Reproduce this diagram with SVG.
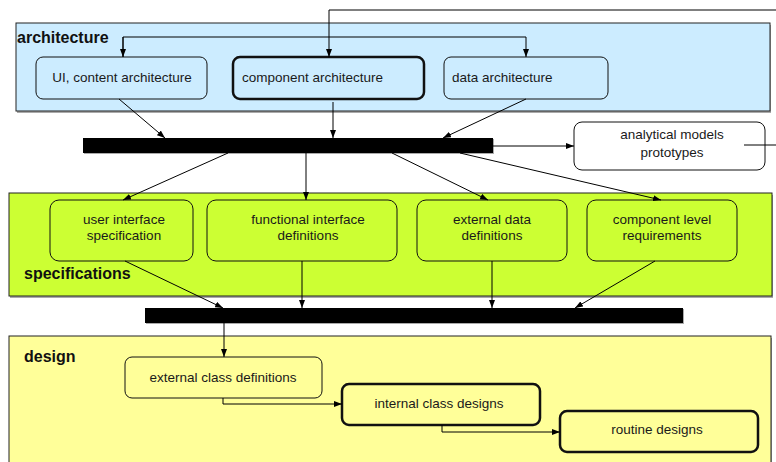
<svg xmlns="http://www.w3.org/2000/svg" width="776" height="462" viewBox="0 0 776 462">
<style>
.panel{stroke:#222;stroke-width:1}
.shadow{fill:#aaa}
.box{stroke:#111;stroke-width:1}
.thick{stroke:#111;stroke-width:2.5}
.t{font-family:"Liberation Sans",Arial,sans-serif;font-size:13.5px;fill:#1a1a1a}
.c{text-anchor:middle}
.h{font-family:"Liberation Sans",Arial,sans-serif;font-size:16px;font-weight:bold;fill:#111}
.ln{fill:none;stroke:#000;stroke-width:1}
.bar{fill:#000}
</style>
<defs>
<marker id="ah" viewBox="0 0 8 6" refX="8" refY="3" markerWidth="8" markerHeight="6" markerUnits="userSpaceOnUse" orient="auto">
<path d="M0,0 L8,3 L0,6 z" fill="#000"/>
</marker>
</defs>
<rect width="776" height="462" fill="#fff"/>

<g id="panel-architecture">
<rect class="shadow" x="17" y="25" width="754" height="88"/>
<rect class="panel" x="16" y="23" width="754" height="88" fill="#CCECFF"/>
<text class="h" x="17" y="43">architecture</text>
</g>
<g id="panel-specifications">
<rect class="shadow" x="10" y="195" width="763" height="103"/>
<rect class="panel" x="9" y="193" width="763" height="103" fill="#CCFF33"/>
<text class="h" x="24" y="279">specifications</text>
</g>
<g id="panel-design">
<rect class="shadow" x="10" y="338" width="762" height="130"/>
<rect class="panel" x="9" y="336" width="762" height="130" fill="#FFFF99"/>
<text class="h" x="24" y="362">design</text>
</g>

<g id="bar1"><rect class="shadow" x="84" y="139" width="410" height="15"/><rect class="bar" x="83" y="138" width="410" height="15"/></g>
<g id="bar2"><rect class="shadow" x="146" y="309" width="538" height="15"/><rect class="bar" x="145" y="308" width="538" height="15"/></g>

<g id="ui-content-architecture">
<rect class="box" x="36" y="57" width="171" height="42" rx="7" fill="#CCECFF"/>
<text class="t c" x="122" y="82">UI, content architecture</text>
</g>
<g id="component-architecture">
<rect class="thick" x="233" y="57" width="191" height="42" rx="7" fill="#CCECFF"/>
<text class="t" x="242" y="82">component architecture</text>
</g>
<g id="data-architecture">
<rect class="box" x="444" y="57" width="164" height="42" rx="7" fill="#CCECFF"/>
<text class="t" x="452" y="82">data architecture</text>
</g>
<g id="analytical-models">
<rect class="box" x="574" y="122" width="191" height="48" rx="8" fill="#fff"/>
<text class="t c" x="672" y="139">analytical models</text>
<text class="t c" x="672" y="157">prototypes</text>
</g>

<g id="user-interface-specification">
<rect class="box" x="50" y="200" width="143" height="61" rx="9" fill="#CCFF33"/>
<text class="t c" x="124" y="224">user interface</text>
<text class="t c" x="124" y="240">specification</text>
</g>
<g id="functional-interface-definitions">
<rect class="box" x="207" y="200" width="190" height="61" rx="9" fill="#CCFF33"/>
<text class="t c" x="308" y="224">functional interface</text>
<text class="t c" x="308" y="240">definitions</text>
</g>
<g id="external-data-definitions">
<rect class="box" x="417" y="200" width="150" height="61" rx="9" fill="#CCFF33"/>
<text class="t c" x="492" y="224">external data</text>
<text class="t c" x="492" y="240">definitions</text>
</g>
<g id="component-level-requirements">
<rect class="box" x="587" y="200" width="150" height="61" rx="9" fill="#CCFF33"/>
<text class="t c" x="662" y="224">component level</text>
<text class="t c" x="662" y="240">requirements</text>
</g>

<g id="external-class-definitions">
<rect class="box" x="125" y="357" width="197" height="41" rx="7" fill="#FFFF99"/>
<text class="t c" x="223" y="382">external class definitions</text>
</g>
<g id="internal-class-designs">
<rect class="thick" x="342" y="384" width="198" height="41" rx="7" fill="#FFFF99"/>
<text class="t c" x="439" y="408">internal class designs</text>
</g>
<g id="routine-designs">
<rect class="thick" x="560" y="411" width="198" height="41" rx="7" fill="#FFFF99"/>
<text class="t c" x="657" y="434">routine designs</text>
</g>

<g id="connectors">
<path class="ln" d="M776,10 H329 V57" marker-end="url(#ah)"/>
<path class="ln" d="M123,57 V37 H526 V57" marker-end="url(#ah)"/>
<path class="ln" d="M123,37 V57" marker-end="url(#ah)"/>
<path class="ln" d="M119,99 L165,138" marker-end="url(#ah)"/>
<path class="ln" d="M333,102 V138" marker-end="url(#ah)"/>
<path class="ln" d="M526,99 L443,138" marker-end="url(#ah)"/>
<path class="ln" d="M493,146 H574" stroke="#444" stroke-width="1.5" marker-end="url(#ah)"/>
<path class="ln" d="M744,145 H776"/>
<path class="ln" d="M228,153 L123,200" marker-end="url(#ah)"/>
<path class="ln" d="M306,153 V200" marker-end="url(#ah)"/>
<path class="ln" d="M392,153 L488,200" marker-end="url(#ah)"/>
<path class="ln" d="M460,153 L661,200" marker-end="url(#ah)"/>
<path class="ln" d="M125,261 L223,308" marker-end="url(#ah)"/>
<path class="ln" d="M302,261 V308" marker-end="url(#ah)"/>
<path class="ln" d="M492,261 V308" marker-end="url(#ah)"/>
<path class="ln" d="M655,261 L575,308" marker-end="url(#ah)"/>
<path class="ln" d="M224,323 V357" marker-end="url(#ah)"/>
<path class="ln" d="M223,398 V404 H342" marker-end="url(#ah)"/>
<path class="ln" d="M442,425 V432 H560" marker-end="url(#ah)"/>
</g>
</svg>
